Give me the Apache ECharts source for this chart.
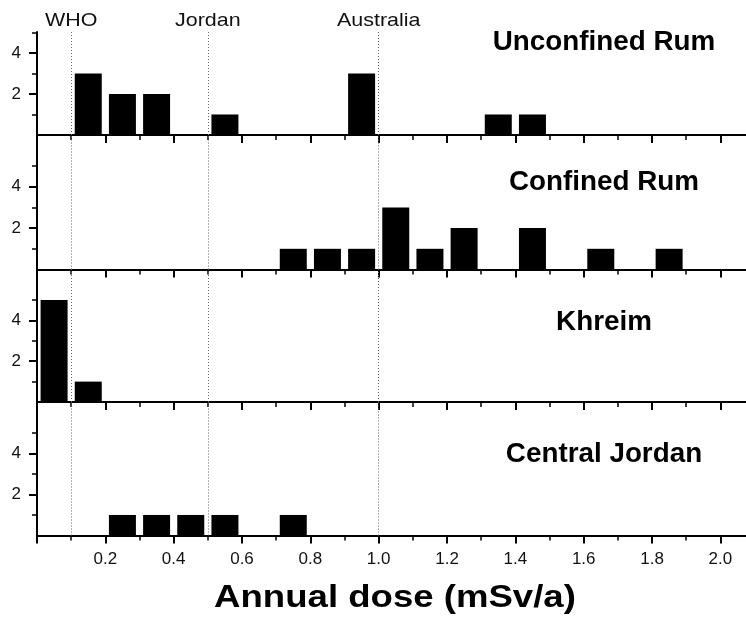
<!DOCTYPE html>
<html>
<head>
<meta charset="utf-8">
<script src="https://cdn.jsdelivr.net/npm/echarts@6/dist/echarts.min.js"></script>
<style>
  html, body { margin: 0; padding: 0; background: #fff; }
  #chart { width: 746px; height: 619px; }
</style>
</head>
<body>
<div id="chart"></div>
<script>
// Histogram bins (bin centre, mSv/a) and number of samples per bin, per region
const panelNames = ['Unconfined Rum', 'Confined Rum', 'Khreim', 'Central Jordan'];
const unconfinedDose  = [0.15, 0.25, 0.35, 0.55, 0.95, 1.35, 1.45];
const unconfinedCount = [3, 2, 2, 1, 3, 1, 1];
const confinedDose    = [0.75, 0.85, 0.95, 1.05, 1.15, 1.25, 1.45, 1.65, 1.85];
const confinedCount   = [1, 1, 1, 3, 1, 2, 2, 1, 1];
const khreimDose      = [0.05, 0.15];
const khreimCount     = [5, 1];
const centralDose     = [0.25, 0.35, 0.45, 0.55, 0.75];
const centralCount    = [1, 1, 1, 1, 1];

// Annual dose guideline limits
const limitNames  = ['WHO', 'Jordan', 'Australia'];
const limitValues = [0.1, 0.5, 1.0];

// Tick labels
const xTickLabels = [0.2, 0.4, 0.6, 0.8, 1.0, 1.2, 1.4, 1.6, 1.8, 2.0];
const yTickLabels = [2, 4];
const yMax = [5.02, 6.5, 6.5, 6.5];

const doses  = [unconfinedDose, confinedDose, khreimDose, centralDose];
const counts = [unconfinedCount, confinedCount, khreimCount, centralCount];

const FONT = '"Liberation Sans", Arial, sans-serif';
const INK = '#000';

// stacked panel layout (px)
const panelTop = [32, 135, 269.5, 402];
const panelHeight = [103, 134.5, 132.5, 133.5];

const chart = echarts.init(document.getElementById('chart'), null, { renderer: 'canvas' });

const grids = [], xAxes = [], yAxes = [], series = [];
panelNames.forEach((name, i) => {
  grids.push({ left: 37, right: 0, top: panelTop[i], height: panelHeight[i], containLabel: false });
  xAxes.push({
    gridIndex: i, type: 'value', min: 0, max: 2.075, interval: 0.2,
    axisLine: { show: true, onZero: false, lineStyle: { color: INK, width: 2 } },
    axisTick: { show: true, inside: false, length: 8, customValues: [0].concat(xTickLabels),
                lineStyle: { color: INK, width: 2 } },
    minorTick: { show: true, splitNumber: 2, length: 5, lineStyle: { color: INK, width: 1.5 } },
    axisLabel: { show: i === 3, customValues: xTickLabels, formatter: v => v.toFixed(1),
                 fontSize: 17, fontFamily: FONT, color: '#111', margin: 15 },
    splitLine: { show: false }, minorSplitLine: { show: false }
  });
  yAxes.push({
    gridIndex: i, type: 'value', min: 0, max: yMax[i], interval: 2,
    axisLine: { show: true, onZero: false, lineStyle: { color: INK, width: 2 } },
    axisTick: { show: true, inside: false, length: 8, customValues: yTickLabels,
                lineStyle: { color: INK, width: 2 } },
    minorTick: { show: true, splitNumber: 2, length: 5, lineStyle: { color: INK, width: 1.5 } },
    axisLabel: { customValues: yTickLabels, fontSize: 17, fontFamily: FONT, color: '#111', margin: 16 },
    splitLine: { show: false }, minorSplitLine: { show: false }
  });
  series.push({
    name: name, type: 'bar', xAxisIndex: i, yAxisIndex: i,
    data: doses[i].map((d, k) => [d, counts[i][k]]),
    barWidth: 27,
    itemStyle: { color: INK },
    markLine: {
      silent: true, symbol: 'none', animation: false,
      label: { show: false },
      lineStyle: { type: [1, 2], color: '#666', width: 1 },
      data: limitValues.map(v => ({ xAxis: v }))
    }
  });
});

chart.setOption({
  animation: false,
  backgroundColor: '#fff',
  grid: grids, xAxis: xAxes, yAxis: yAxes, series: series
});

// Text annotations: guideline names above the dotted lines, panel names, axis title
const graphics = [];
limitNames.forEach((n, k) => {
  const px = chart.convertToPixel({ xAxisIndex: 0 }, limitValues[k]);
  graphics.push({
    type: 'text', x: px, y: 21, scaleX: 1.13,
    style: { text: n, x: 0, y: 0, align: 'center', verticalAlign: 'middle',
             font: '19px ' + FONT, fill: '#111' }
  });
});
const titleY = [43, 183, 323, 455];
panelNames.forEach((n, i) => {
  graphics.push({
    type: 'text', x: 604, y: titleY[i], scaleX: 1.03,
    style: { text: n, x: 0, y: 0, align: 'center', verticalAlign: 'middle',
             font: 'bold 27px ' + FONT, fill: INK }
  });
});
graphics.push({
  type: 'text', x: 395, y: 598, scaleX: 1.18,
  style: { text: 'Annual dose (mSv/a)', x: 0, y: 0, align: 'center', verticalAlign: 'middle',
           font: 'bold 31px ' + FONT, fill: INK }
});
chart.setOption({ graphic: graphics });
</script>
</body>
</html>
